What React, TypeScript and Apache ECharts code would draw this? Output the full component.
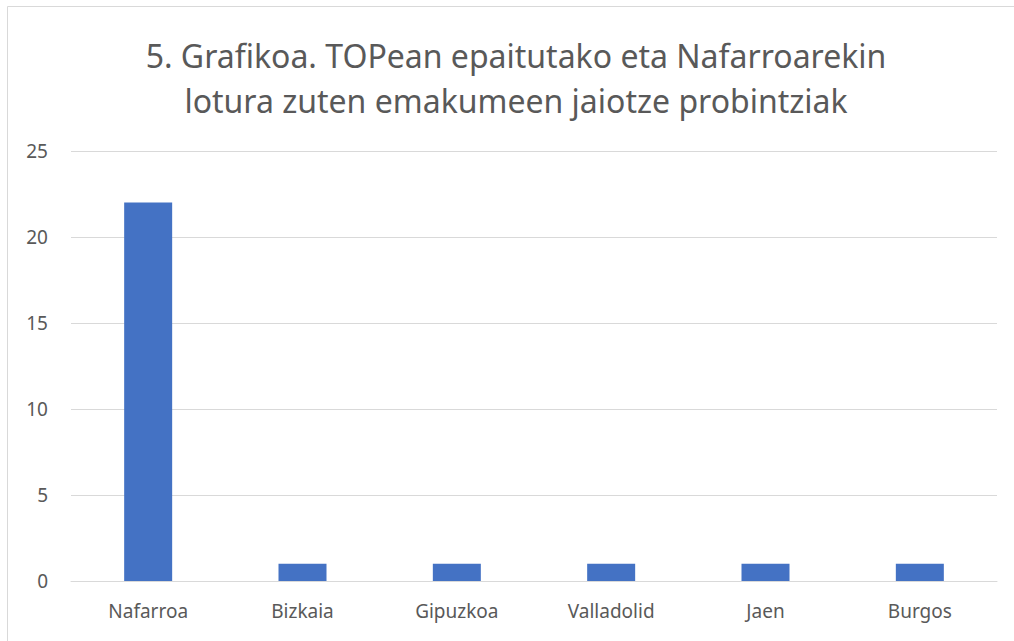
import React, { useEffect, useRef } from "react";
import * as echarts from "echarts";

const categories = ["Nafarroa", "Bizkaia", "Gipuzkoa", "Valladolid", "Jaen", "Burgos"];
const values = [22, 1, 1, 1, 1, 1];
const titleLines = [
  "5. Grafikoa. TOPean epaitutako eta Nafarroarekin",
  "lotura zuten emakumeen jaiotze probintziak",
];

export default function App() {
  const ref = useRef<HTMLDivElement>(null);
  useEffect(() => {
    if (!ref.current) return;
    const chart = echarts.init(ref.current, null, { renderer: "svg" });
    chart.setOption({
      animation: false,
      backgroundColor: "#ffffff",
      graphic: [
        {
          type: "rect",
          shape: { x: 7.5, y: 6.5, width: 1020, height: 650 },
          style: { fill: "none", stroke: "#d9d9d9", lineWidth: 1 },
        },
        {
          type: "text",
          x: 516,
          y: 55,
          style: {
            text: titleLines[0],
            fill: "#595959",
            font: "32px 'Noto Sans'",
            textAlign: "center",
            textVerticalAlign: "middle",
          },
        },
        {
          type: "text",
          x: 516,
          y: 100,
          style: {
            text: titleLines[1],
            fill: "#595959",
            font: "32px 'Noto Sans'",
            textAlign: "center",
            textVerticalAlign: "middle",
          },
        },
      ],
      grid: { left: 71, right: 17, top: 151, bottom: 60, containLabel: false },
      xAxis: {
        type: "category",
        data: categories,
        axisLine: { lineStyle: { color: "#d9d9d9", width: 1 } },
        axisTick: { show: false },
        axisLabel: {
          color: "#595959",
          fontFamily: "Noto Sans",
          fontSize: 19,
          margin: 20,
        },
      },
      yAxis: {
        type: "value",
        min: 0,
        max: 25,
        interval: 5,
        axisLine: { show: false },
        axisTick: { show: false },
        splitLine: { lineStyle: { color: "#d9d9d9", width: 1 } },
        axisLabel: {
          color: "#595959",
          fontFamily: "Noto Sans",
          fontSize: 19,
          margin: 23,
        },
      },
      series: [
        {
          type: "bar",
          data: values,
          barWidth: 48,
          itemStyle: { color: "#4472c4" },
        },
      ],
    });
    return () => chart.dispose();
  }, []);
  return (
    <div
      ref={ref}
      style={{ position: "fixed", left: 0, top: 0, width: 1014, height: 641 }}
    />
  );
}
